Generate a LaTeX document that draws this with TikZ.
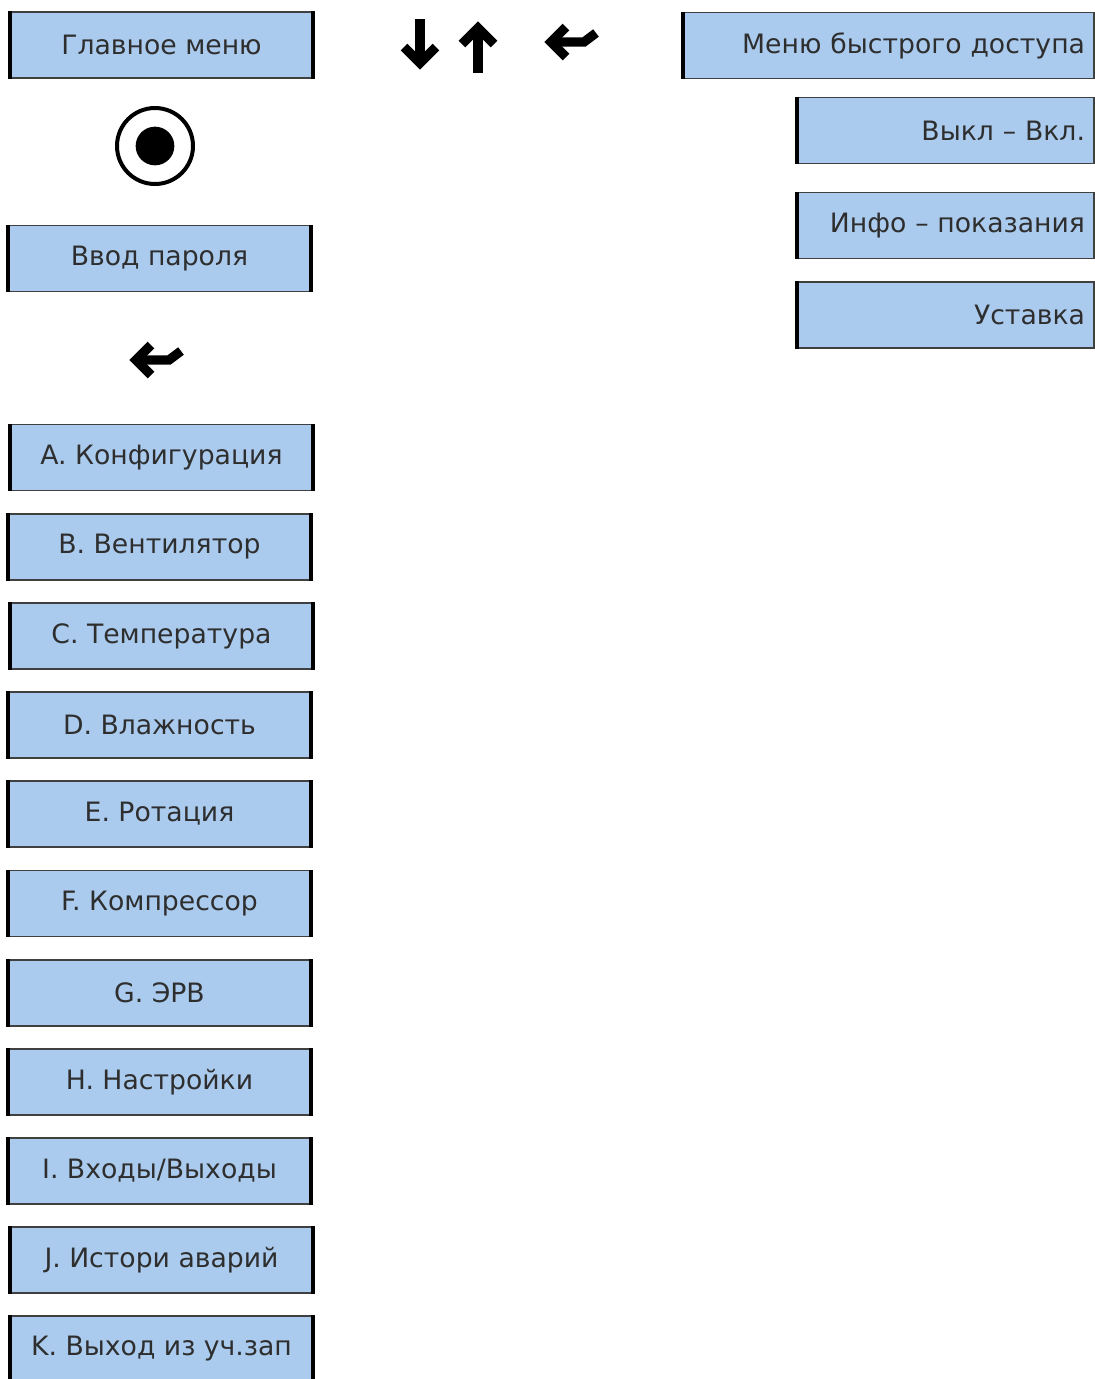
\documentclass[tikz,border=0pt]{standalone}
\usepackage{fontspec}
\setmainfont{DejaVu Sans}
\definecolor{boxblue}{HTML}{AACBEE}
\definecolor{txt}{HTML}{2E2E2E}
\tikzset{
  menubox/.style={draw=black!75, line width=0.9pt, fill=boxblue, text=txt,
    font=\fontsize{20pt}{24pt}\selectfont, inner sep=0pt,
    minimum width=227.25pt, minimum height=49.5pt},
  quickbox/.style={menubox, minimum height=49.5pt, inner xsep=6.75pt, align=right},
  sidebar/.style={line width=3.2pt, line cap=butt},
  bigarrow/.style={line width=7pt, line cap=butt, miter limit=10},
}
\begin{document}
\begin{tikzpicture}[x=0.75pt,y=-0.75pt]
\useasboundingbox (0,0) rectangle (1095,1379);
\clip (0,0) rectangle (1095,1379);
\fill[white] (0,0) rectangle (1095,1379);

% left column
\node[menubox] (gm) at (161.5,45) {Главное меню};
\node[menubox] (pw) at (159.5,258.5) {Ввод пароля};
\node[menubox] (mA) at (161.5,457.5) {A. Конфигурация};
\node[menubox] (mB) at (159.5,547) {B. Вентилятор};
\node[menubox] (mC) at (161.5,636) {C. Температура};
\node[menubox] (mD) at (159.5,725) {D. Влажность};
\node[menubox] (mE) at (159.5,814) {E. Ротация};
\node[menubox] (mF) at (159.5,903.5) {F. Компрессор};
\node[menubox] (mG) at (159.5,993) {G. ЭРВ};
\node[menubox] (mH) at (159.5,1082) {H. Настройки};
\node[menubox] (mI) at (159.5,1171) {I. Входы/Выходы};
\node[menubox] (mJ) at (161.5,1260) {J. Истори аварий};
\node[menubox] (mK) at (161.5,1349) {K. Выход из уч.зап};
\foreach \n in {gm,pw,mA,mB,mC,mD,mE,mF,mG,mH,mI,mJ,mK}{
  \draw[sidebar] ([xshift=0.6pt]\n.north west) -- ([xshift=0.6pt]\n.south west);
  \draw[sidebar] ([xshift=-0.4pt]\n.north east) -- ([xshift=-0.4pt]\n.south east);
}

% right column
\node[quickbox, minimum width=308.25pt, text width=294.75pt] (qm) at (888.5,45.5) {Меню быстрого доступа};
\node[quickbox, minimum width=222.75pt, text width=209.25pt] (q1) at (945.5,130.5) {Выкл – Вкл.};
\node[quickbox, minimum width=222.75pt, text width=209.25pt] (q2) at (945.5,225.5) {Инфо – показания};
\node[quickbox, minimum width=222.75pt, text width=209.25pt] (q3) at (945.5,315) {Уставка};
\foreach \n in {qm,q1,q2,q3}{
  \draw[sidebar] ([xshift=0.6pt]\n.north west) -- ([xshift=0.6pt]\n.south west);
}

% enter symbol
\coordinate (sel) at (155,146);
\draw[line width=3pt] (sel) circle[radius=28.5pt];
\fill (sel) circle[radius=14.5pt];

% arrows
\draw[bigarrow] (420,19) -- (420,62);
\draw[bigarrow] (404,47) -- (420,63) -- (436,47);
\draw[bigarrow] (478,73) -- (478,29);
\draw[bigarrow] (462,44) -- (478,28) -- (494,44);

\draw[bigarrow] (553,42) -- (584,42) -- (596,33);
\draw[bigarrow] (566,27) -- (551,42) -- (566,57);

\draw[bigarrow] (138,360) -- (169,360) -- (181,351);
\draw[bigarrow] (151,345) -- (136,360) -- (151,375);
\end{tikzpicture}
\end{document}
